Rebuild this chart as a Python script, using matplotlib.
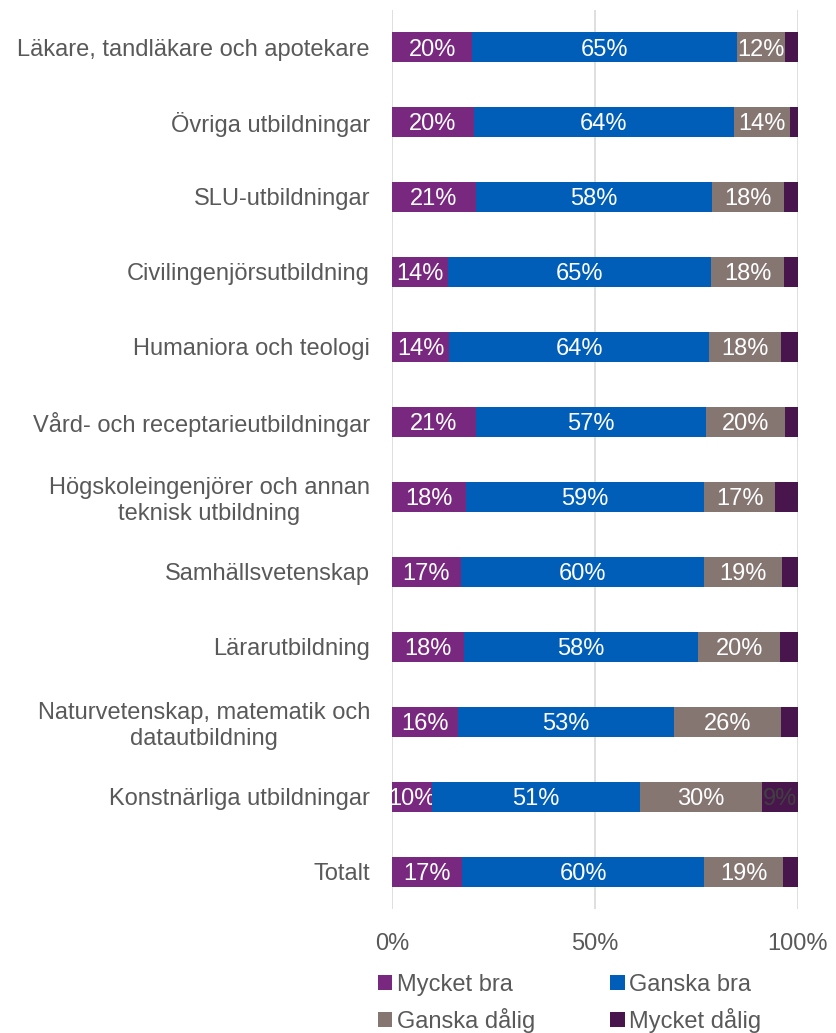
import matplotlib.pyplot as plt
import numpy as np

plt.rcParams['font.family'] = ['Liberation Sans', 'DejaVu Sans']

categories = [
    "Läkare, tandläkare och apotekare",
    "Övriga utbildningar",
    "SLU-utbildningar",
    "Civilingenjörsutbildning",
    "Humaniora och teologi",
    "Vård- och receptarieutbildningar",
    "Högskoleingenjörer och annan\nteknisk utbildning",
    "Samhällsvetenskap",
    "Lärarutbildning",
    "Naturvetenskap, matematik och\ndatautbildning",
    "Konstnärliga utbildningar",
    "Totalt",
]

mycket_bra = [19.7, 20.1, 20.6, 13.8, 14.1, 20.6, 18.2, 16.9, 17.6, 16.2, 9.7, 17.2]
ganska_bra = [65.4, 64.2, 58.3, 64.9, 64.0, 56.7, 58.8, 60.1, 57.9, 53.2, 51.4, 59.8]
ganska_dalig = [11.8, 13.8, 17.6, 18.0, 17.8, 19.6, 17.4, 19.0, 20.1, 26.4, 30.1, 19.3]
mycket_dalig = [3.1, 1.9, 3.5, 3.3, 4.1, 3.1, 5.6, 4.0, 4.4, 4.2, 8.8, 3.7]

series = ["Mycket bra", "Ganska bra", "Ganska dålig", "Mycket dålig"]
colors = ["#78287F", "#005EB8", "#857672", "#48164C"]
label_colors = ["white", "white", "white", "#404040"]

fig = plt.figure(figsize=(8.37, 10.33), dpi=100)
ax = fig.add_axes([0.4686, 0.1196, 0.4845, 0.8712])

y = np.arange(len(categories))
left = np.zeros(len(categories))
for name, vals, col, lcol in zip(series, [mycket_bra, ganska_bra, ganska_dalig, mycket_dalig], colors, label_colors):
    vals = np.array(vals)
    bars = ax.barh(y, vals, left=left, height=0.41, color=col, label=name, zorder=3)
    labels = [f"{v:.0f}%" if v >= 8 else "" for v in vals]
    txts = ax.bar_label(bars, labels=labels, label_type='center', color=lcol, fontsize=17)
    for t in txts:
        t.set_va('center_baseline')
    left += vals

ax.set_xlim(0, 100)
ax.set_ylim(len(categories) - 0.5, -0.5)
ax.set_yticks(y)
ax.set_yticklabels(categories)
for t in ax.get_yticklabels():
    t.set_multialignment('center')
ax.set_xticks([0, 50, 100])
ax.set_xticklabels(["0%", "50%", "100%"])
ax.tick_params(axis='both', length=0, labelsize=17, labelcolor="#595959")
ax.tick_params(axis='y', pad=16)
ax.tick_params(axis='x', pad=17)
ax.grid(axis='x', color="#d9d9d9", linewidth=1.2, zorder=0)
for s in ax.spines.values():
    s.set_visible(False)

# legend row-wise like the original: reorder for column-major filling
h, l = ax.get_legend_handles_labels()
order = [0, 2, 1, 3]
ax.legend([h[i] for i in order], [l[i] for i in order],
          loc='upper left', bbox_to_anchor=(-0.065, -0.0585), ncol=2, frameon=False,
          fontsize=17, labelcolor="#595959", handlelength=0.6, handleheight=0.6,
          handletextpad=0.2, columnspacing=3.2, labelspacing=0.5, borderpad=0)

fig.savefig("out.png", dpi=100)
